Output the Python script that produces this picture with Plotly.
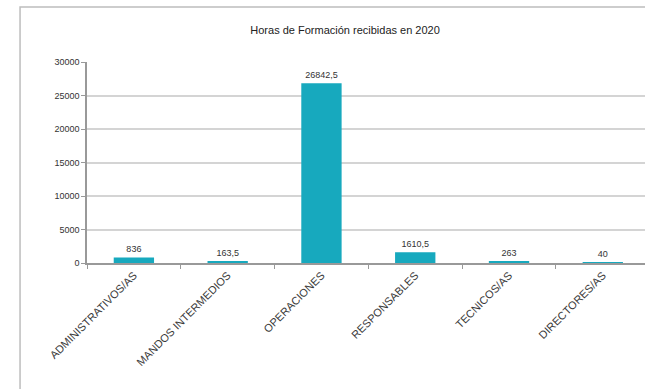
import plotly.graph_objects as go

# Horas de formación por colectivo
categorias = ["ADMINISTRATIVOS/AS", "MANDOS INTERMEDIOS", "OPERACIONES",
              "RESPONSABLES", "TECNICOS/AS", "DIRECTORES/AS"]
horas = [836, 163.5, 26842.5, 1610.5, 263, 40]
etiquetas = ["836", "163,5", "26842,5", "1610,5", "263", "40"]
y_ticks = [0, 5000, 10000, 15000, 20000, 25000, 30000]

BAR = "#17a9be"
FONT = "Liberation Sans"

fig = go.Figure(go.Bar(
    x=categorias, y=horas, marker_color=BAR, marker_line_width=0,
    text=etiquetas, textposition="outside", cliponaxis=False,
    textfont=dict(size=9, color="#333333", family=FONT),
))

fig.update_layout(
    width=645, height=389,
    margin=dict(l=87, r=0, t=62, b=126),
    paper_bgcolor="white", plot_bgcolor="white",
    bargap=0.57, showlegend=False,
    title=dict(text="Horas de Formación recibidas en 2020", x=0.535, xanchor="center",
               y=0.922, yanchor="middle",
               font=dict(size=11, color="#222222", family=FONT)),
    font=dict(family=FONT, color="#333333"),
    shapes=[dict(type="rect", xref="paper", yref="paper",
                 x0=-0.12, x1=1.1, y0=-1.0, y1=1.2736,
                 line=dict(color="#bdbdbd", width=1.5), fillcolor="rgba(0,0,0,0)",
                 layer="below")],
)

fig.update_xaxes(
    range=[-0.5, 5.45], tickangle=-45, tickson="boundaries",
    ticks="outside", ticklen=4, tickcolor="#999999",
    showline=True, linecolor="#999999", linewidth=1.5,
    tickfont=dict(size=11, color="#3a3a3a", family=FONT),
    showgrid=False,
)
fig.update_yaxes(
    range=[0, 30000], tickvals=y_ticks, ticktext=[str(v) for v in y_ticks],
    ticks="outside", ticklen=4, tickcolor="#999999",
    showline=True, linecolor="#999999", linewidth=1.5,
    showgrid=True, gridcolor="#d4d4d4", gridwidth=2, zeroline=False,
    tickfont=dict(size=9, color="#333333", family=FONT),
)

fig.write_html("out.html")
